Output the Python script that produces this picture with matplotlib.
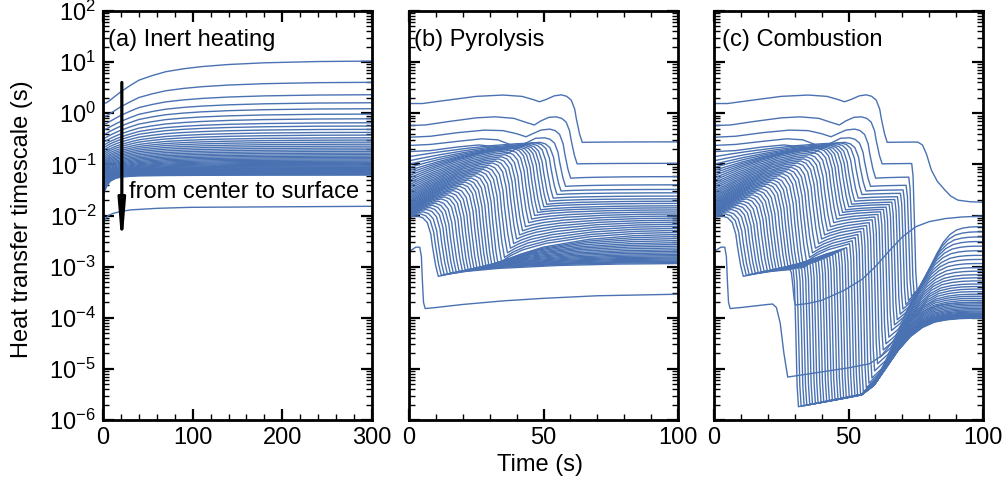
import numpy as np
import matplotlib.pyplot as plt
from matplotlib.ticker import LogLocator, MultipleLocator, NullFormatter

plt.rcParams['font.family'] = ['Liberation Sans', 'DejaVu Sans']
plt.rcParams['font.size'] = 17

blue = '#4a72b2'

# ---------------- data (log10 of timescale) ----------------
# (a) inert heating, curves from center (0) to the node next to the surface
a_start = [0.19, -0.07, -0.22, -0.33, -0.42, -0.50, -0.57, -0.63, -0.68, -0.73, -0.78, -0.82,
           -0.86, -0.90, -0.935, -0.97, -1.0, -1.03, -1.06, -1.09, -1.115, -1.14, -1.165, -1.19,
           -1.215, -1.24, -1.26, -1.28, -1.30, -1.32, -1.34, -1.36, -1.38, -1.40, -1.42, -1.44,
           -1.46, -1.48, -1.50, -1.515, -1.53, -1.545, -1.56, -1.575, -1.59, -1.61]
a_end = [1.02, 0.605, 0.362, 0.205, 0.088, -0.016, -0.108, -0.186, -0.25, -0.315, -0.374, -0.427,
         -0.48, -0.524, -0.565, -0.605, -0.643, -0.68, -0.715, -0.748, -0.78, -0.81, -0.838, -0.865,
         -0.89, -0.914, -0.937, -0.958, -0.978, -0.997, -1.015, -1.032, -1.048, -1.063, -1.077, -1.09,
         -1.103, -1.115, -1.127, -1.138, -1.149, -1.16, -1.171, -1.182, -1.195, -1.21]
# normalised rise of the innermost and outermost curves
a_shape_t = [0, 4, 8, 14, 20, 30, 40, 55, 70, 90, 110, 140, 180, 240, 300]
a_shape_top = [0, .02, .08, .18, .28, .42, .55, .66, .75, .82, .87, .92, .96, .99, 1]
a_shape_bot = [0, .45, .7, .84, .9, .94, .96, .97, .98, .985, .99, .993, .996, .998, 1]
a_surf_t = [0, 3, 6, 11, 20, 31, 60, 98, 200, 300]
a_surf_v = [-2.19, -2.06, -2.0, -1.96, -1.92, -1.89, -1.86, -1.84, -1.83, -1.82]

# (b) pyrolysis
b_pre_t = [[0, 5, 12, 25, 35, 42, 46, 48.5, 51, 54, 56.6],
           [0, 6, 15, 25, 32, 39, 43, 46.6, 49, 52, 54.7],
           [0, 8, 18, 28, 35, 40, 43.5, 46, 49, 52.3],
           [0, 8, 18, 27, 33, 37, 40, 44, 47, 50.4],
           [0, 8, 18, 26, 31, 34, 36.5, 41, 45.5, 48.7]]
b_pre_v = [[0.19, 0.19, 0.24, 0.33, 0.356, 0.33, 0.27, 0.225, 0.27, 0.34, 0.36],
           [-0.24, -0.23, -0.16, -0.09, -0.07, -0.1, -0.17, -0.23, -0.15, -0.08, -0.07],
           [-0.47, -0.45, -0.38, -0.33, -0.34, -0.40, -0.46, -0.40, -0.33, -0.31],
           [-0.63, -0.61, -0.55, -0.50, -0.52, -0.60, -0.66, -0.57, -0.49, -0.48],
           [-0.75, -0.73, -0.66, -0.62, -0.65, -0.72, -0.79, -0.66, -0.58, -0.57]]
b_start = [0.19, -0.24, -0.47, -0.63, -0.75, -0.85, -0.93, -1.0, -1.06, -1.12, -1.17, -1.22,
           -1.27, -1.315, -1.36, -1.40, -1.44, -1.48, -1.52, -1.555, -1.59, -1.625, -1.655, -1.685,
           -1.715, -1.74, -1.765, -1.79, -1.81, -1.83, -1.85, -1.87, -1.885, -1.90, -1.915, -1.93,
           -1.945, -1.96, -1.975, -1.99, -2.0, -2.01, -2.02, -2.03, -2.04]
b_crest_t = [56.6, 54.7, 52.3, 50.4, 48.7, 47.2, 45.8, 44.5, 43.4, 42.3, 41.1, 40.0, 38.9, 37.8,
             36.7, 35.5, 34.4, 33.3, 32.2, 31.1, 29.9, 28.8, 27.7, 26.6, 25.5, 24.4, 23.2, 22.1,
             21.0, 19.9, 18.8, 17.6, 16.5, 15.4, 14.3, 13.2, 12.1, 10.9, 9.8, 8.7, 7.6, 6.5, 5.3,
             4.2, 3.1]
b_crest = [0.36, -0.07, -0.31, -0.48, -0.57, -0.58, -0.60, -0.62, -0.635, -0.65, -0.66, -0.675,
           -0.69, -0.725, -0.766, -0.81, -0.851, -0.892, -0.933, -0.973, -1.018, -1.058, -1.099,
           -1.14, -1.18, -1.221, -1.266, -1.306, -1.347, -1.388, -1.428, -1.473, -1.513, -1.554,
           -1.595, -1.636, -1.676, -1.721, -1.761, -1.802, -1.843, -1.883, -1.928, -1.969, -2.009]
b_min = [-0.57, -0.99, -1.27, -1.43, -1.52, -1.59, -1.66, -1.72, -1.78, -1.83, -1.89, -1.94,
         -2.0, -2.07, -2.14, -2.22, -2.30, -2.38, -2.46, -2.55, -2.64, -2.73, -2.82, -2.9,
         -3.02, -3.03, -3.035, -3.04, -3.05, -3.055, -3.06, -3.07, -3.075, -3.08, -3.09, -3.095,
         -3.10, -3.11, -3.12, -3.13, -3.14, -3.15, -3.16, -3.17, -3.19]
b_end = [-0.56, -0.98, -1.24, -1.40, -1.49, -1.556, -1.62, -1.673, -1.72, -1.763, -1.81,
         -1.85, -1.89, -1.93, -1.97, -2.01, -2.05, -2.09, -2.13, -2.17, -2.21, -2.25, -2.29,
         -2.33, -2.37, -2.41, -2.45, -2.49, -2.53, -2.565, -2.6, -2.635, -2.67, -2.70, -2.73,
         -2.76, -2.785, -2.81, -2.83, -2.85, -2.87, -2.89, -2.905, -2.92, -2.94]
b_surf_t = [0, 2.5, 4.0, 4.6, 5.0, 5.4, 6, 10, 20, 35, 50, 70, 100]
b_surf_v = [-2.71, -2.62, -2.62, -2.8, -3.3, -3.7, -3.82, -3.8, -3.74, -3.67, -3.62, -3.57, -3.54]

# shapes of the rise, drop and recovery
rise_f = [0, .1, .25, .45, .65, .85, 1]
rise_g = [0, .15, .36, .6, .8, .94, 1]
drop_dt = [0, 2, 3.7, 5, 5.6, 6.8, 7.8]
drop_f = [0, 0.03, 0.11, 0.3, 0.5, 0.82, 1.0]
post_u = [0, .05, .12, .25, .5, .75, 1]
post_g = [0, .2, .4, .62, .85, .96, 1]

# (c) combustion: second collapse of curves 1..43
c_drop_t = [73.5, 72.4, 71.4, 70.3, 69.3, 68.2, 67.2, 66.1, 65.1, 64.0, 63.0, 61.9, 60.9, 59.8,
            58.8, 57.7, 56.7, 55.6, 54.6, 53.5, 52.5, 51.4, 50.4, 49.3, 48.3, 47.2, 46.2, 45.1,
            44.1, 43.0, 42.0, 40.9, 39.9, 38.8, 37.8, 36.7, 35.7, 34.6, 33.6, 32.5, 31.5, 30.4,
            29.4]
c_land = [-3.47, -3.53, -3.58, -3.66, -3.74, -3.83, -3.93, -4.04, -4.14, -4.25, -4.38, -4.51,
          -4.63, -4.77, -4.9, -5.04, -5.18, -5.28, -5.37, -5.45, -5.51, -5.53, -5.54, -5.55,
          -5.56, -5.57, -5.58, -5.59, -5.60, -5.61, -5.62, -5.63, -5.64, -5.65, -5.66, -5.67,
          -5.68, -5.69, -5.70, -5.71, -5.72, -5.73, -5.74]
c_end = [-2.22, -2.32, -2.42, -2.51, -2.60, -2.69, -2.78, -2.86, -2.94, -3.02, -3.09, -3.16,
         -3.22, -3.28, -3.34, -3.39, -3.44, -3.49, -3.54, -3.58, -3.62, -3.66, -3.70, -3.73,
         -3.76, -3.79, -3.82, -3.845, -3.87, -3.89, -3.91, -3.925, -3.94, -3.95, -3.96, -3.97,
         -3.98, -3.985, -3.99, -3.995, -4.0, -4.005, -4.01]
c_floor_t, c_floor_v = 55, -5.5
drop2_dt = [0, 0.5, 1.0, 1.5, 2.0]
drop2_f = [0, 0.1, 0.45, 0.85, 1.0]
rise2_u = [0, .1, .2, .3, .4, .5, .6, .7, .8, .9, 1]
rise2_g = [0, .12, .35, .58, .76, .88, .95, .98, .995, 1, 1]
c_center_t = [75.7, 77.5, 79, 80.8, 83, 85.8, 88, 90.7, 95, 100]
c_center_v = [-0.56, -0.62, -0.8, -1.11, -1.33, -1.5, -1.62, -1.7, -1.73, -1.74]
c_long_drop_t, c_long_low = 28.3, -3.75
c_long_t = [35, 40, 48.5, 55, 60, 65, 70, 75, 80, 86, 92, 100]
c_long_v = [-3.72, -3.66, -3.46, -3.25, -3.0, -2.7, -2.42, -2.22, -2.12, -2.06, -2.03, -2.01]
c_surf_cut = 21.8
c_surf_t = [23.2, 24.6, 26, 27.4, 40, 50, 57.8]
c_surf_v = [-3.8, -4.1, -4.7, -5.16, -5.06, -4.98, -4.9]
c_surf_end = -3.7


def curve_b(i):
    if i < len(b_pre_t):
        t, v = list(b_pre_t[i]), list(b_pre_v[i])
    else:
        t = [b_crest_t[i] * f for f in rise_f]
        v = [b_start[i] + (b_crest[i] - b_start[i]) * g for g in rise_g]
    tc, vc = t[-1], v[-1]
    for dt, f in zip(drop_dt[1:], drop_f[1:]):
        t.append(tc + dt)
        v.append(vc + (b_min[i] - vc) * f)
    td = t[-1]
    for u, g in zip(post_u[1:], post_g[1:]):
        t.append(td + (100 - td) * u)
        v.append(b_min[i] + (b_end[i] - b_min[i]) * g)
    return np.array(t), np.array(v)


def cut(t, v, tcut):
    vc = np.interp(tcut, t, v)
    keep = t < tcut
    return list(t[keep]) + [tcut], list(v[keep]) + [vc]


def rise_to(t, v, t0, v0, vend):
    for u, g in zip(rise2_u[1:], rise2_g[1:]):
        t.append(t0 + (100 - t0) * u)
        v.append(v0 + (vend - v0) * g)


def curve_c(i):
    tb, vb = curve_b(i)
    if i == 0:
        t, v = cut(tb, vb, c_center_t[0])
        return np.array(t + c_center_t[1:]), np.array(v + c_center_v[1:])
    if i == len(b_crest_t) - 1:
        t, v = cut(tb, vb, c_long_drop_t)
        v2 = v[-1]
        for dt, f in zip(drop2_dt[1:], drop2_f[1:]):
            t.append(c_long_drop_t + dt)
            v.append(v2 + (c_long_low - v2) * f)
        return np.array(t + c_long_t), np.array(v + c_long_v)
    t2, land, vend = c_drop_t[i - 1], c_land[i - 1], c_end[i - 1]
    t, v = cut(tb, vb, t2)
    v2 = v[-1]
    for dt, f in zip(drop2_dt[1:], drop2_f[1:]):
        t.append(t2 + dt)
        v.append(v2 + (land - v2) * f)
    tl = t[-1]
    if tl < c_floor_t:
        t.append(c_floor_t)
        v.append(c_floor_v)
        rise_to(t, v, c_floor_t, c_floor_v, vend)
    else:
        rise_to(t, v, tl, land, vend)
    return np.array(t), np.array(v)


fig = plt.figure(figsize=(10.08, 4.91), dpi=100)
W, H = 1008, 491
lefts = [103, 409, 714]
axes = [fig.add_axes([l / W, (H - 420) / H, 269 / W, 409 / H]) for l in lefts]
ax_a, ax_b, ax_c = axes

# panel a
n_a = len(a_start)
for i in range(n_a):
    w = i / (n_a - 1)
    shape = [(1 - w) * p + w * q for p, q in zip(a_shape_top, a_shape_bot)]
    v = [a_start[i] + (a_end[i] - a_start[i]) * s for s in shape]
    ax_a.plot(a_shape_t, 10 ** np.array(v), color=blue, lw=1)
ax_a.plot(a_surf_t, 10 ** np.array(a_surf_v), color=blue, lw=1)

# panel b and c
for i in range(len(b_crest_t)):
    t, v = curve_b(i)
    ax_b.plot(t, 10 ** v, color=blue, lw=1)
    t, v = curve_c(i)
    ax_c.plot(t, 10 ** v, color=blue, lw=1)
ax_b.plot(b_surf_t, 10 ** np.array(b_surf_v), color=blue, lw=1)
ts, vs = cut(np.array(b_surf_t, float), np.array(b_surf_v), c_surf_cut)
ts, vs = ts + c_surf_t, vs + c_surf_v
rise_to(ts, vs, c_surf_t[-1], c_surf_v[-1], c_surf_end)
ax_c.plot(ts, 10 ** np.array(vs), color=blue, lw=1)

for ax in axes:
    ax.set_yscale('log')
    ax.set_ylim(1e-6, 1e2)
    ax.yaxis.set_major_locator(LogLocator(base=10, numticks=20))
    ax.yaxis.set_minor_locator(LogLocator(base=10, subs=np.arange(2, 10), numticks=100))
    ax.yaxis.set_minor_formatter(NullFormatter())
    ax.tick_params(which='both', direction='in', top=True, right=True)
    ax.tick_params(which='major', length=8, width=1.6, pad=5)
    ax.tick_params(which='minor', length=4, width=1.0)
    for s in ax.spines.values():
        s.set_linewidth(2)

ax_a.set_xlim(0, 300)
ax_a.xaxis.set_major_locator(MultipleLocator(100))
ax_a.xaxis.set_minor_locator(MultipleLocator(20))
for ax in (ax_b, ax_c):
    ax.set_xlim(0, 100)
    ax.xaxis.set_major_locator(MultipleLocator(50))
    ax.xaxis.set_minor_locator(MultipleLocator(10))
    ax.tick_params(axis='y', labelleft=False)

ax_a.text(0.02, 0.93, '(a) Inert heating', transform=ax_a.transAxes, va='center', ha='left')
ax_b.text(0.02, 0.93, '(b) Pyrolysis', transform=ax_b.transAxes, va='center', ha='left')
ax_c.text(0.03, 0.93, '(c) Combustion', transform=ax_c.transAxes, va='center', ha='left')

ax_a.annotate('', xy=(21, 2.3e-3), xytext=(21, 4.0),
              arrowprops=dict(arrowstyle='-|>,head_length=1.2,head_width=0.1', lw=2.3,
                              color='black', mutation_scale=20, shrinkA=0, shrinkB=0))
ax_a.text(0.098, 0.557, 'from center to surface', transform=ax_a.transAxes, va='center', ha='left')

fig.text(0.022, 0.553, 'Heat transfer timescale (s)', rotation=90, va='center', ha='center')
fig.text(0.536, 0.052, 'Time (s)', va='center', ha='center')

fig.savefig('out.png', dpi=100)
